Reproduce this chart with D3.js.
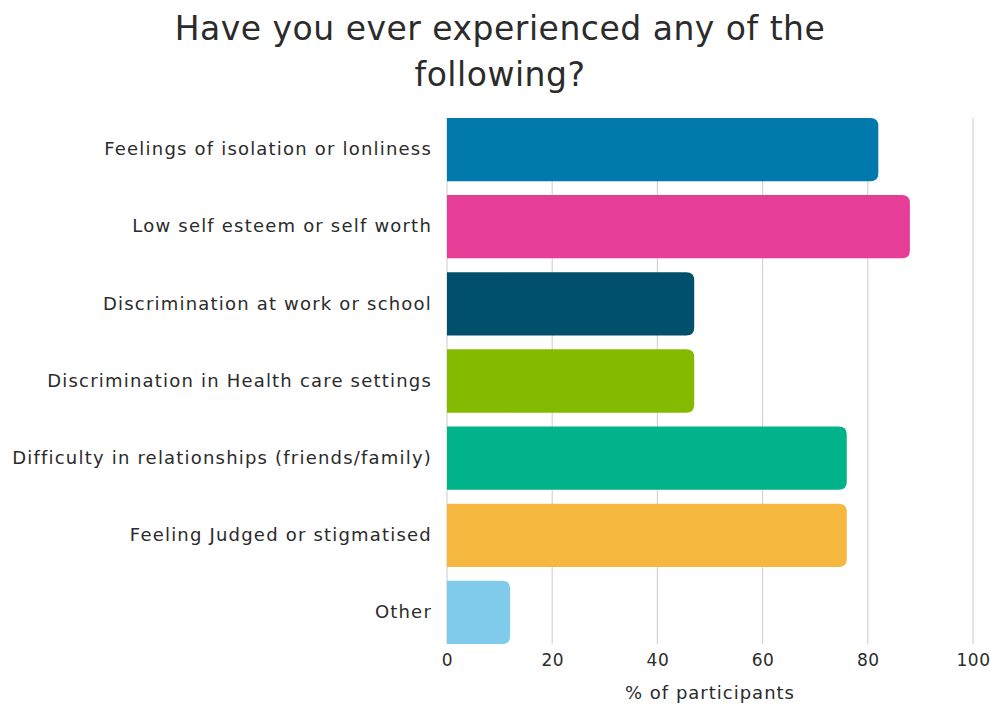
<!DOCTYPE html>
<html>
<head>
<meta charset="utf-8">
<script src="https://cdn.jsdelivr.net/npm/d3@7"></script>
<style>
  html, body { margin: 0; padding: 0; background: #fff; }
  svg { display: block; }
  text { font-family: "DejaVu Sans", "Open Sans", sans-serif; fill: #2b2b2b; }
</style>
</head>
<body>
<svg id="chart" width="993" height="708"></svg>
<script>
const categories = [
  "Feelings of isolation or lonliness",
  "Low self esteem or self worth",
  "Discrimination at work or school",
  "Discrimination in Health care settings",
  "Difficulty in relationships (friends/family)",
  "Feeling Judged or stigmatised",
  "Other"
];
const values = [82, 88, 47, 47, 76, 76, 12];
const barColors = ["#0279ad", "#e63e96", "#004f6c", "#84bb00", "#00b38b", "#f6b73f", "#80cbeb"];
const xTicks = [0, 20, 40, 60, 80, 100];
const titleLines = ["Have you ever experienced any of the", "following?"];
const xAxisTitle = "% of participants";

const svg = d3.select("#chart");
const margin = { top: 111, right: 20, bottom: 57, left: 447 };
const width = 993, height = 708;
const labelFont = "'DejaVu Sans', sans-serif";

const x = d3.scaleLinear().domain([0, 100]).range([margin.left, 973]);
const y = d3.scaleBand().domain(categories).range([margin.top, height - margin.bottom]).paddingInner(0.18).paddingOuter(0.09);

// title
svg.append("g").selectAll("text").data(titleLines).join("text")
  .attr("x", 500).attr("y", (d, i) => 40 + i * 46)
  .attr("text-anchor", "middle")
  .attr("font-size", 33)
  .style("letter-spacing", "0.5px")
  .text(d => d);

// vertical gridlines
svg.append("g").selectAll("line").data(xTicks).join("line")
  .attr("x1", d => x(d)).attr("x2", d => x(d))
  .attr("y1", y(categories[0])).attr("y2", y(categories[categories.length - 1]) + y.bandwidth())
  .attr("stroke", "#d4d4d4").attr("stroke-width", 1.2);

// bars with rounded right ends
const r = 8;
function barPath(v, cat) {
  const x0 = x(0), x1 = x(v), y0 = y(cat), h = y.bandwidth();
  const rr = Math.min(r, (x1 - x0));
  return `M${x0},${y0} H${x1 - rr} Q${x1},${y0} ${x1},${y0 + rr} V${y0 + h - rr} Q${x1},${y0 + h} ${x1 - rr},${y0 + h} H${x0} Z`;
}
svg.append("g").selectAll("path").data(categories).join("path")
  .attr("d", (c, i) => barPath(values[i], c))
  .attr("fill", (c, i) => barColors[i]);

// category labels
const yAxis = d3.axisLeft(y).tickSize(0).tickPadding(15);
const gy = svg.append("g").attr("transform", `translate(${x(0)},0)`).call(yAxis);
gy.select(".domain").remove();
gy.selectAll("text").attr("font-size", 18).style("font-family", labelFont).style("letter-spacing", "1.2px").attr("fill", "#2b2b2b");

// x axis ticks
const xAxis = d3.axisBottom(x).tickValues(xTicks).tickSize(0).tickPadding(10);
const gx = svg.append("g").attr("transform", `translate(0,${y(categories[categories.length - 1]) + y.bandwidth()})`).call(xAxis);
gx.select(".domain").remove();
gx.selectAll("text").attr("font-size", 17).style("font-family", labelFont).style("letter-spacing", "0.5px").attr("fill", "#2b2b2b");

// x axis title
svg.append("text")
  .attr("x", 710).attr("y", 699)
  .attr("text-anchor", "middle")
  .attr("font-size", 18)
  .style("letter-spacing", "1px")
  .text(xAxisTitle);
</script>
</body>
</html>
